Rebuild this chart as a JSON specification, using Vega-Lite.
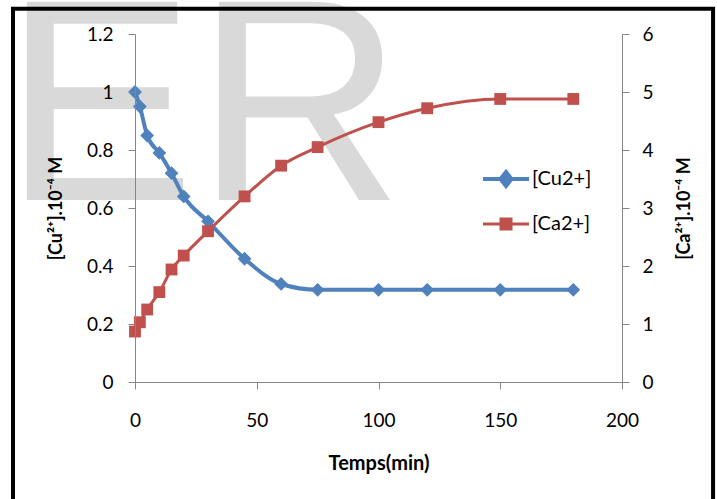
{
  "$schema": "https://vega.github.io/schema/vega-lite/v6.json",
  "width": 487,
  "height": 348,
  "autosize": "none",
  "padding": {"left": 135, "top": 34, "right": 95, "bottom": 117},
  "background": "white",
  "config": {
    "view": {"stroke": null},
    "font": "Lato",
    "axis": {
      "grid": false,
      "domainColor": "#868686",
      "tickColor": "#868686",
      "tickSize": 7,
      "labelFont": "Lato",
      "labelFontSize": 19,
      "labelColor": "#000000",
      "labelFlush": false,
      "titleFont": "Lato",
      "titleFontSize": 18,
      "titleFontWeight": "bold",
      "titleColor": "#000000"
    }
  },
  "datasets": {
    "conc": [
      {"t": 0, "series": "[Cu2+]", "value": 1.0},
      {"t": 2, "series": "[Cu2+]", "value": 0.95},
      {"t": 5, "series": "[Cu2+]", "value": 0.85},
      {"t": 10, "series": "[Cu2+]", "value": 0.79},
      {"t": 15, "series": "[Cu2+]", "value": 0.72},
      {"t": 20, "series": "[Cu2+]", "value": 0.64},
      {"t": 30, "series": "[Cu2+]", "value": 0.554},
      {"t": 45, "series": "[Cu2+]", "value": 0.425},
      {"t": 60, "series": "[Cu2+]", "value": 0.338},
      {"t": 75, "series": "[Cu2+]", "value": 0.318},
      {"t": 100, "series": "[Cu2+]", "value": 0.318},
      {"t": 120, "series": "[Cu2+]", "value": 0.318},
      {"t": 150, "series": "[Cu2+]", "value": 0.318},
      {"t": 180, "series": "[Cu2+]", "value": 0.318},
      {"t": 0, "series": "[Ca2+]", "value": 0.87},
      {"t": 2, "series": "[Ca2+]", "value": 1.03},
      {"t": 5, "series": "[Ca2+]", "value": 1.25},
      {"t": 10, "series": "[Ca2+]", "value": 1.55},
      {"t": 15, "series": "[Ca2+]", "value": 1.94},
      {"t": 20, "series": "[Ca2+]", "value": 2.18},
      {"t": 30, "series": "[Ca2+]", "value": 2.6},
      {"t": 45, "series": "[Ca2+]", "value": 3.2},
      {"t": 60, "series": "[Ca2+]", "value": 3.73},
      {"t": 75, "series": "[Ca2+]", "value": 4.05},
      {"t": 100, "series": "[Ca2+]", "value": 4.48},
      {"t": 120, "series": "[Ca2+]", "value": 4.72},
      {"t": 150, "series": "[Ca2+]", "value": 4.88},
      {"t": 180, "series": "[Ca2+]", "value": 4.88}
    ],
    "decor": [{"label": "ER"}]
  },
  "layer": [
    {
      "data": {"name": "decor"},
      "layer": [
        {
          "mark": {"type": "text", "font": "Liberation Sans", "fontSize": 288, "color": "#d9d9d9", "align": "left", "baseline": "alphabetic"},
          "encoding": {
            "x": {"datum": -54.1, "type": "quantitative", "scale": {"domain": [0, 200]},
              "axis": {"values": [0, 50, 100, 150, 200], "title": "Temps(min)", "labelPadding": 22, "titlePadding": 23, "titleFontSize": 20, "zindex": 1}},
            "y": {"datum": 0.628, "type": "quantitative", "scale": {"domain": [0, 1.2]}, "axis": null},
            "text": {"field": "label"}
          }
        },
        {
          "mark": {"type": "rect", "filled": false, "stroke": "#000000", "strokeWidth": 4},
          "encoding": {
            "x": {"datum": -50.1, "type": "quantitative", "scale": {"domain": [0, 200]},
              "axis": {"values": [0, 50, 100, 150, 200], "title": "Temps(min)", "labelPadding": 22, "titlePadding": 23, "titleFontSize": 20, "zindex": 1}},
            "x2": {"datum": 237.4},
            "y": {"datum": 1.287, "type": "quantitative", "scale": {"domain": [0, 1.2]}, "axis": null},
            "y2": {"datum": -0.6}
          }
        }
      ]
    },
    {
      "data": {"name": "conc"},
      "transform": [{"filter": "datum.series === '[Cu2+]'"}],
      "encoding": {
        "x": {"field": "t", "type": "quantitative", "scale": {"domain": [0, 200]},
          "axis": {"values": [0, 50, 100, 150, 200], "title": "Temps(min)", "labelPadding": 22, "titlePadding": 23, "titleFontSize": 20, "zindex": 1}},
        "y": {"field": "value", "type": "quantitative", "scale": {"domain": [0, 1.2]},
          "axis": {"orient": "left", "values": [0, 0.2, 0.4, 0.6, 0.8, 1, 1.2], "format": "~g", "title": "[Cu²⁺].10⁻⁴ M", "labelPadding": 15, "titlePadding": 21, "zindex": 1}},
        "color": {"field": "series", "type": "nominal",
          "scale": {"domain": ["[Cu2+]", "[Ca2+]"], "range": ["#4F81BD", "#C0504D"]},
          "legend": {
            "orient": "none", "legendX": 361, "legendY": 135, "title": null, "padding": 0,
            "symbolSize": 400, "labelFont": "Lato", "labelFontSize": 20, "labelColor": "#000000",
            "labelOffset": 16, "rowPadding": 19,
            "encode": {
              "symbols": {
                "update": {
                  "shape": {"signal": "datum.value === '[Cu2+]' ? 'M-2.3,0H2.3M0,-0.7L0.55,0L0,0.7L-0.55,0Z' : 'M-2.3,0H2.3M-0.5,-0.5H0.5V0.5H-0.5Z'"},
                  "fill": {"signal": "datum.value === '[Cu2+]' ? '#4F81BD' : '#C0504D'"},
                  "stroke": {"signal": "datum.value === '[Cu2+]' ? '#4F81BD' : '#C0504D'"},
                  "strokeWidth": {"signal": "datum.value === '[Cu2+]' ? 4 : 3"},
                  "opacity": {"value": 1},
                  "fillOpacity": {"value": 1},
                  "strokeOpacity": {"value": 1}
                }
              }
            }
          }
        }
      },
      "layer": [
        {"mark": {"type": "line", "interpolate": "monotone", "strokeWidth": 4}},
        {"mark": {"type": "point", "shape": "diamond", "filled": true, "size": 190, "opacity": 1}}
      ]
    },
    {
      "data": {"name": "conc"},
      "transform": [{"filter": "datum.series === '[Ca2+]'"}],
      "encoding": {
        "x": {"field": "t", "type": "quantitative", "scale": {"domain": [0, 200]},
          "axis": {"values": [0, 50, 100, 150, 200], "title": "Temps(min)", "labelPadding": 22, "titlePadding": 23, "titleFontSize": 20, "zindex": 1}},
        "y": {"field": "value", "type": "quantitative", "scale": {"domain": [0, 6]},
          "axis": {"orient": "right", "values": [0, 1, 2, 3, 4, 5, 6], "title": "[Ca²⁺].10⁻⁴ M", "titleAngle": 270, "labelPadding": 13, "titlePadding": 40, "zindex": 1}},
        "color": {"field": "series", "type": "nominal"}
      },
      "layer": [
        {"mark": {"type": "line", "interpolate": "monotone", "strokeWidth": 3}},
        {"mark": {"type": "point", "shape": "square", "filled": true, "size": 140, "opacity": 1}}
      ]
    }
  ],
  "resolve": {"scale": {"y": "independent"}}
}
